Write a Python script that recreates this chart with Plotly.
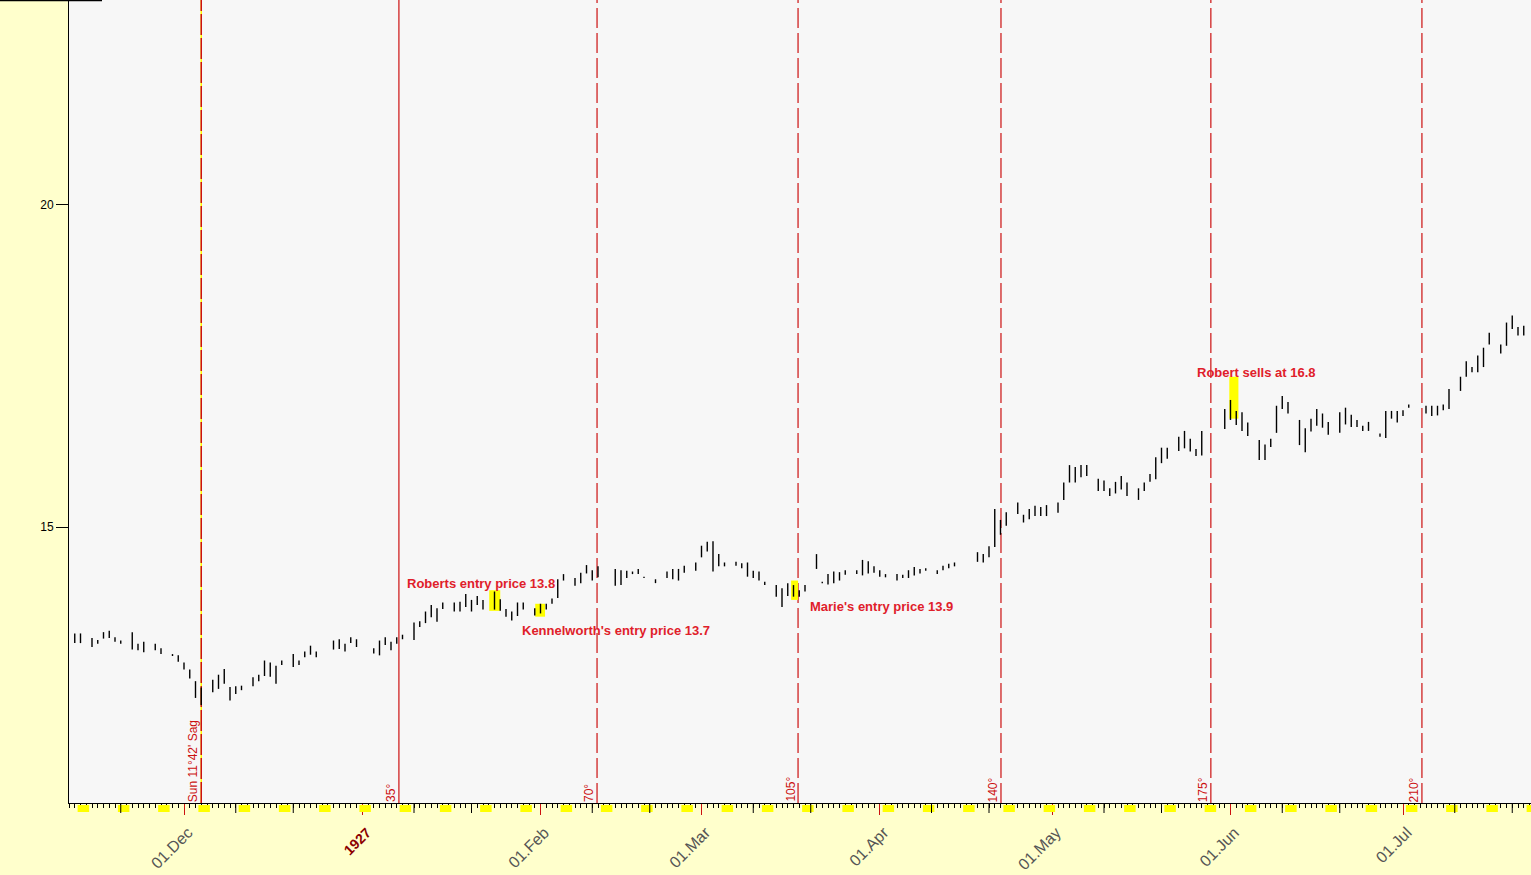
import plotly.graph_objects as go
import pandas as pd

# ---------------- data ----------------
dates = [
    "1926-11-12", "1926-11-13", "1926-11-15", "1926-11-16", "1926-11-17", "1926-11-18", "1926-11-19", "1926-11-20",
    "1926-11-22", "1926-11-23", "1926-11-24", "1926-11-26", "1926-11-27", "1926-11-29", "1926-11-30",
    "1926-12-01", "1926-12-02", "1926-12-03", "1926-12-04", "1926-12-06", "1926-12-07", "1926-12-08", "1926-12-09",
    "1926-12-10", "1926-12-11", "1926-12-13", "1926-12-14", "1926-12-15", "1926-12-16", "1926-12-17", "1926-12-18",
    "1926-12-20", "1926-12-21", "1926-12-22", "1926-12-23", "1926-12-24", "1926-12-27", "1926-12-28", "1926-12-29",
    "1926-12-30", "1926-12-31",
    "1927-01-03", "1927-01-04", "1927-01-05", "1927-01-06", "1927-01-07", "1927-01-08", "1927-01-10", "1927-01-11",
    "1927-01-12", "1927-01-13", "1927-01-14", "1927-01-15", "1927-01-17", "1927-01-18", "1927-01-19", "1927-01-20",
    "1927-01-21", "1927-01-22", "1927-01-24", "1927-01-25", "1927-01-26", "1927-01-27", "1927-01-28", "1927-01-29",
    "1927-01-31",
    "1927-02-01", "1927-02-02", "1927-02-03", "1927-02-04", "1927-02-05", "1927-02-07", "1927-02-08", "1927-02-09",
    "1927-02-10", "1927-02-11", "1927-02-14", "1927-02-15", "1927-02-16", "1927-02-17", "1927-02-18", "1927-02-19",
    "1927-02-21", "1927-02-23", "1927-02-24", "1927-02-25", "1927-02-26", "1927-02-28",
    "1927-03-01", "1927-03-02", "1927-03-03", "1927-03-04", "1927-03-05", "1927-03-07", "1927-03-08", "1927-03-09",
    "1927-03-10", "1927-03-11", "1927-03-12", "1927-03-14", "1927-03-15", "1927-03-16", "1927-03-17", "1927-03-18",
    "1927-03-19", "1927-03-21", "1927-03-22", "1927-03-23", "1927-03-24", "1927-03-25", "1927-03-26", "1927-03-28",
    "1927-03-29", "1927-03-30", "1927-03-31",
    "1927-04-01", "1927-04-02", "1927-04-04", "1927-04-05", "1927-04-06", "1927-04-07", "1927-04-08", "1927-04-09",
    "1927-04-11", "1927-04-12", "1927-04-13", "1927-04-14", "1927-04-18", "1927-04-19", "1927-04-20", "1927-04-21",
    "1927-04-22", "1927-04-23", "1927-04-25", "1927-04-26", "1927-04-27", "1927-04-28", "1927-04-29", "1927-04-30",
    "1927-05-02", "1927-05-03", "1927-05-04", "1927-05-05", "1927-05-06", "1927-05-07", "1927-05-09", "1927-05-10",
    "1927-05-11", "1927-05-12", "1927-05-13", "1927-05-14", "1927-05-16", "1927-05-17", "1927-05-18", "1927-05-19",
    "1927-05-20", "1927-05-21", "1927-05-23", "1927-05-24", "1927-05-25", "1927-05-26", "1927-05-27", "1927-05-31",
    "1927-06-01", "1927-06-02", "1927-06-03", "1927-06-04", "1927-06-06", "1927-06-07", "1927-06-08", "1927-06-09",
    "1927-06-10", "1927-06-11", "1927-06-13", "1927-06-14", "1927-06-15", "1927-06-16", "1927-06-17", "1927-06-18",
    "1927-06-20", "1927-06-21", "1927-06-22", "1927-06-23", "1927-06-24", "1927-06-25", "1927-06-27", "1927-06-28",
    "1927-06-29", "1927-06-30",
    "1927-07-01", "1927-07-02", "1927-07-05", "1927-07-06", "1927-07-07", "1927-07-08", "1927-07-09", "1927-07-11",
    "1927-07-12", "1927-07-13", "1927-07-14", "1927-07-15", "1927-07-16", "1927-07-18", "1927-07-19", "1927-07-20",
    "1927-07-21", "1927-07-22",
]
highs = [
    13.35, 13.35, 13.28, 13.25, 13.37, 13.39, 13.29, 13.24,
    13.37, 13.19, 13.22, 13.19, 13.12, 13.03, 13.01,
    12.90, 12.79, 12.61, 12.51, 12.63, 12.71, 12.80, 12.52,
    12.53, 12.54, 12.67, 12.71, 12.93, 12.90, 12.85, 12.93,
    13.03, 12.93, 13.07, 13.16, 13.07, 13.24, 13.26, 13.19,
    13.29, 13.26,
    13.12, 13.24, 13.29, 13.22, 13.29, 13.33, 13.52, 13.54,
    13.69, 13.79, 13.74, 13.83, 13.83, 13.84, 13.96, 13.87,
    13.93, 13.87, 14.00, 13.88, 13.73, 13.69, 13.83, 13.83,
    13.74,
    13.81, 13.81, 13.89, 14.19, 14.27, 14.21, 14.29, 14.41,
    14.33, 14.39, 14.35, 14.33, 14.32, 14.31, 14.35, 14.23,
    14.19, 14.31, 14.35, 14.35, 14.40, 14.45,
    14.71, 14.77, 14.78, 14.58, 14.45, 14.46, 14.44, 14.45,
    14.32, 14.31, 14.15, 14.10, 14.05, 14.13, 14.10, 14.02,
    14.10, 14.58, 14.15, 14.27, 14.31, 14.30, 14.33, 14.33,
    14.49, 14.47, 14.39,
    14.33, 14.27, 14.27, 14.26, 14.33, 14.38, 14.35, 14.36,
    14.33, 14.40, 14.43, 14.45, 14.61, 14.58, 14.70, 15.28,
    15.11, 15.23, 15.38, 15.19, 15.28, 15.33, 15.31, 15.34,
    15.38, 15.69, 15.96, 15.93, 15.96, 15.96, 15.75, 15.72,
    15.60, 15.70, 15.79, 15.69, 15.60, 15.69, 15.82, 16.08,
    16.23, 16.23, 16.40, 16.49, 16.37, 16.21, 16.49, 16.83,
    16.97, 16.80, 16.78, 16.62, 16.35, 16.28, 16.37, 16.88,
    17.03, 16.94, 16.66, 16.53, 16.68, 16.83, 16.76, 16.63,
    16.78, 16.85, 16.74, 16.66, 16.57, 16.63, 16.45, 16.80,
    16.80, 16.80,
    16.81, 16.90, 16.88, 16.88, 16.88, 16.90, 17.14, 17.33,
    17.57, 17.48, 17.66, 17.78, 18.01, 17.83, 18.17, 18.28,
    18.10, 18.12,
]
lows = [
    13.20, 13.20, 13.14, 13.19, 13.27, 13.28, 13.22, 13.19,
    13.10, 13.09, 13.06, 13.09, 13.03, 13.00, 12.91,
    12.79, 12.65, 12.35, 12.24, 12.44, 12.49, 12.57, 12.31,
    12.41, 12.47, 12.53, 12.61, 12.69, 12.68, 12.57, 12.86,
    12.83, 12.86, 12.98, 13.02, 12.98, 13.10, 13.11, 13.07,
    13.20, 13.14,
    13.04, 13.01, 13.17, 13.09, 13.19, 13.26, 13.25, 13.45,
    13.51, 13.60, 13.53, 13.73, 13.69, 13.69, 13.76, 13.69,
    13.79, 13.72, 13.72, 13.70, 13.61, 13.55, 13.62, 13.72,
    13.63,
    13.66, 13.72, 13.81, 13.90, 14.17, 14.09, 14.13, 14.28,
    14.17, 14.22, 14.09, 14.10, 14.21, 14.27, 14.27, 14.21,
    14.13, 14.21, 14.19, 14.17, 14.29, 14.32,
    14.53, 14.62, 14.31, 14.39, 14.39, 14.40, 14.36, 14.23,
    14.21, 14.17, 14.10, 13.92, 13.76, 13.93, 13.92, 13.92,
    14.00, 14.35, 14.13, 14.11, 14.13, 14.17, 14.26, 14.27,
    14.25, 14.28, 14.29,
    14.23, 14.22, 14.17, 14.21, 14.21, 14.25, 14.28, 14.32,
    14.27, 14.33, 14.36, 14.39, 14.46, 14.45, 14.53, 14.69,
    14.88, 15.02, 15.20, 15.07, 15.12, 15.17, 15.17, 15.17,
    15.22, 15.42, 15.69, 15.69, 15.77, 15.79, 15.56, 15.56,
    15.48, 15.52, 15.58, 15.48, 15.42, 15.56, 15.70, 15.74,
    15.99, 16.06, 16.18, 16.22, 16.17, 16.10, 16.11, 16.52,
    16.66, 16.58, 16.49, 16.41, 16.04, 16.04, 16.24, 16.46,
    16.83, 16.76, 16.27, 16.16, 16.48, 16.57, 16.54, 16.43,
    16.46, 16.59, 16.55, 16.55, 16.49, 16.49, 16.40, 16.38,
    16.68, 16.62,
    16.72, 16.85, 16.76, 16.72, 16.73, 16.81, 16.83, 17.11,
    17.33, 17.40, 17.40, 17.48, 17.83, 17.69, 17.81, 18.07,
    17.97, 17.97,
]

# highlighted entry / exit bars (yellow boxes)
box_start = ["1927-01-23 02:00", "1927-01-31 02:00", "1927-03-16 14:00", "1927-05-31 19:00"]
box_end = ["1927-01-25 00:00", "1927-02-01 19:00", "1927-03-17 19:00", "1927-06-02 09:00"]
box_low = [13.70, 13.61, 13.87, 16.68]
box_high = [14.02, 13.81, 14.17, 17.33]

# notes
note_text = ["Roberts entry price 13.8", "Kennelworth's entry price 13.7",
             "Marie's entry price 13.9", "Robert sells at 16.8"]
note_date = ["1927-01-09 00:00", "1927-01-29 00:00", "1927-03-20 00:00", "1927-05-26 08:00"]
note_price = [14.13, 13.39, 13.76, 17.40]

# Sun-longitude lines
sun_dates = ["1926-12-04 00:00", "1927-01-07 09:00", "1927-02-10 20:00", "1927-03-17 19:00",
             "1927-04-22 02:00", "1927-05-28 14:00", "1927-07-04 07:00"]
sun_labels = ["Sun 11°42' Sag", "35°", "70°", "105°", "140°", "175°", "210°"]

# axis labels
tick_dates = ["1926-12-01", "1927-01-01", "1927-02-01", "1927-03-01", "1927-04-01",
              "1927-05-01", "1927-06-01", "1927-07-01"]
tick_text = ["01.Dec", "<b><span style='color:#8B0000;font-size:14px'>1927</span></b>", "01.Feb", "01.Mar",
             "01.Apr", "01.May", "01.Jun", "01.Jul"]
long_tick_dates = ["1926-11-20", "1926-12-10", "1926-12-20", "1927-01-10", "1927-01-20", "1927-02-10",
                   "1927-02-20", "1927-03-10", "1927-03-20", "1927-04-10", "1927-04-20", "1927-05-10",
                   "1927-05-20", "1927-06-10", "1927-06-20", "1927-07-10", "1927-07-20"]

x_range = ["1926-11-11 00:00", "1927-07-23 06:15"]
y_range = [10.721, 23.171]

# ---------------- figure ----------------
W, H = 1531, 875
ML, MB = 69, 72
plot_h = H - MB
RED = "#CC1111"

xs, ys = [], []
for d, h, l in zip(dates, highs, lows):
    xs += [d, d, None]
    ys += [l, h, None]

fig = go.Figure()
fig.add_trace(go.Scatter(x=xs, y=ys, mode="lines", line=dict(color="black", width=1.4),
                         hoverinfo="skip", showlegend=False))

shapes = []
# yellow highlight boxes
for x0, x1, lo, hi in zip(box_start, box_end, box_low, box_high):
    shapes.append(dict(type="rect", xref="x", yref="y", x0=x0, x1=x1, y0=lo, y1=hi,
                       fillcolor="#FFFF00", line=dict(width=0), layer="below"))
# sun lines
for i, d in enumerate(sun_dates):
    if i == 0:
        shapes.append(dict(type="line", xref="x", yref="paper", x0=d, x1=d, y0=0, y1=1,
                           line=dict(color="#FFFF00", width=1.5), layer="below"))
        shapes.append(dict(type="line", xref="x", yref="paper", x0=d, x1=d, y0=0, y1=1,
                           line=dict(color=RED, width=1.5, dash="21px,3px"), layer="below"))
    elif i == 1:
        shapes.append(dict(type="line", xref="x", yref="paper", x0=d, x1=d, y0=0, y1=1,
                           line=dict(color=RED, width=1.2), layer="below"))
    else:
        shapes.append(dict(type="line", xref="x", yref="paper", x0=d, x1=d, y0=0, y1=1,
                           line=dict(color=RED, width=1.2, dash="20px,5px"), layer="below"))
# weekend marks under the axis
sats = pd.date_range("1926-11-13", "1927-07-23", freq="7D")
for s in sats:
    shapes.append(dict(type="rect", xref="x", yref="paper",
                       x0=s - pd.Timedelta(hours=12), x1=s + pd.Timedelta(hours=36),
                       y0=-2 / plot_h, y1=-9 / plot_h, fillcolor="#FFFF00", line=dict(width=0)))
# longer black ticks
for d in long_tick_dates:
    shapes.append(dict(type="line", xref="x", yref="paper", x0=d, x1=d, y0=0, y1=-10 / plot_h,
                       line=dict(color="black", width=1)))
# short line at top-left
shapes.append(dict(type="line", xref="paper", yref="paper", x0=-ML / (W - ML), x1=33 / (W - ML),
                   y0=1 - 0.6 / plot_h, y1=1 - 0.6 / plot_h, line=dict(color="black", width=1.5)))

annotations = []
for t, d, p in zip(note_text, note_date, note_price):
    annotations.append(dict(text=t, x=d, y=p, xref="x", yref="y", xanchor="left", yanchor="middle",
                            showarrow=False, xshift=-2, borderpad=0,
                            font=dict(family="Liberation Sans, Arial", size=13, color="#E0202A", weight="bold")))
for d, t in zip(sun_dates, sun_labels):
    annotations.append(dict(text=t, x=d, y=0, xref="x", yref="paper", xanchor="right", yanchor="bottom",
                            textangle=-90, showarrow=False, xshift=0, borderpad=0,
                            font=dict(family="Liberation Sans, Arial", size=12, color=RED)))

fig.update_layout(
    width=W, height=H, autosize=False,
    margin=dict(l=ML, r=0, t=0, b=MB, pad=0),
    paper_bgcolor="#FFFFCC", plot_bgcolor="#F7F7F7",
    showlegend=False,
    shapes=shapes, annotations=annotations,
    xaxis=dict(type="date", range=x_range, showgrid=False, zeroline=False,
               showline=True, linecolor="black", linewidth=1,
               tickmode="array", tickvals=tick_dates, ticktext=tick_text,
               ticks="outside", ticklen=11, tickcolor=RED, tickwidth=1,
               tickangle=-45, automargin=False, ticklabelshift=4, ticklabelstandoff=2,
               tickfont=dict(family="Liberation Sans, Arial", size=16, color="#555555"),
               minor=dict(ticks="outside", ticklen=4, tickcolor="black", tickwidth=1,
                          dtick=86400000, tick0="1926-11-11", showgrid=False)),
    yaxis=dict(range=y_range, tickmode="array", tickvals=[15, 20], ticktext=["15", "20"],
               showgrid=False, zeroline=False, showline=True, linecolor="black", linewidth=1,
               ticks="outside", ticklen=12, tickcolor="black", automargin=False,
               tickfont=dict(family="Liberation Sans, Arial", size=12, color="black")),
)

fig.write_html("out.html", config={"displayModeBar": False},
               post_script="document.body.style.margin='0px';document.body.style.overflow='hidden';")
